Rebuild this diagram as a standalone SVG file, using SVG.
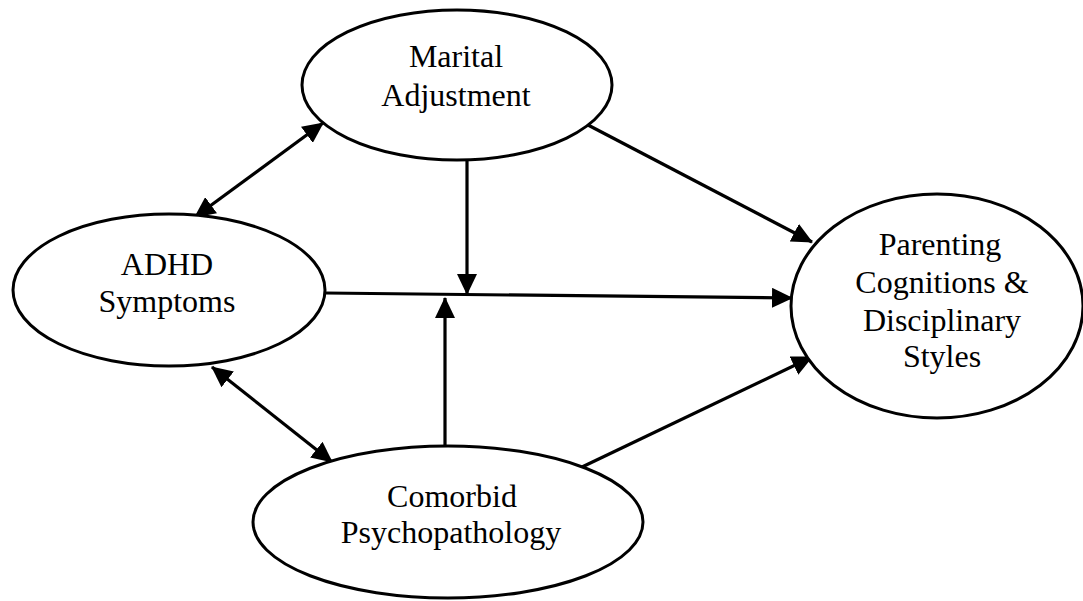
<svg xmlns="http://www.w3.org/2000/svg" width="1083" height="601" viewBox="0 0 1083 601">
<style>
.node ellipse{fill:#fff;stroke:#000;stroke-width:3}
.node text{font-family:"Liberation Serif","Times New Roman",serif;font-size:32px;fill:#000;text-anchor:middle}
.conn line{stroke:#000;stroke-width:3.2}
</style>
<defs>
<marker id="ah" markerUnits="userSpaceOnUse" markerWidth="22" markerHeight="20" refX="20" refY="10" orient="auto-start-reverse" viewBox="0 0 22 20">
<path d="M0,0 L21,10 L0,20 z" fill="#000"/>
</marker>
</defs>
<rect width="1083" height="601" fill="#fff"/>
<g id="connectors" class="conn">
<line x1="323" y1="123" x2="195" y2="217" marker-start="url(#ah)" marker-end="url(#ah)"/>
<line x1="212" y1="367" x2="332" y2="462" marker-start="url(#ah)" marker-end="url(#ah)"/>
<line x1="588" y1="125" x2="812" y2="242" marker-end="url(#ah)"/>
<line x1="582" y1="467" x2="812" y2="357" marker-end="url(#ah)"/>
<line x1="325" y1="293" x2="792" y2="298" marker-end="url(#ah)"/>
<line x1="467" y1="161" x2="467" y2="294" marker-end="url(#ah)"/>
<line x1="445" y1="446" x2="445" y2="298" marker-end="url(#ah)"/>
</g>
<g id="marital" class="node">
<ellipse cx="457" cy="85" rx="155" ry="75"/>
<text x="456" y="67">Marital</text>
<text x="456" y="106">Adjustment</text>
</g>
<g id="adhd" class="node">
<ellipse cx="169" cy="290" rx="156" ry="76"/>
<text x="167" y="275">ADHD</text>
<text x="167" y="312">Symptoms</text>
</g>
<g id="parenting" class="node">
<ellipse cx="937" cy="306" rx="146" ry="112"/>
<text x="940" y="255">Parenting</text>
<text x="942" y="293">Cognitions &amp;</text>
<text x="942" y="331">Disciplinary</text>
<text x="942" y="367">Styles</text>
</g>
<g id="comorbid" class="node">
<ellipse cx="448" cy="522" rx="195" ry="76"/>
<text x="452" y="507">Comorbid</text>
<text x="451" y="543">Psychopathology</text>
</g>
</svg>
